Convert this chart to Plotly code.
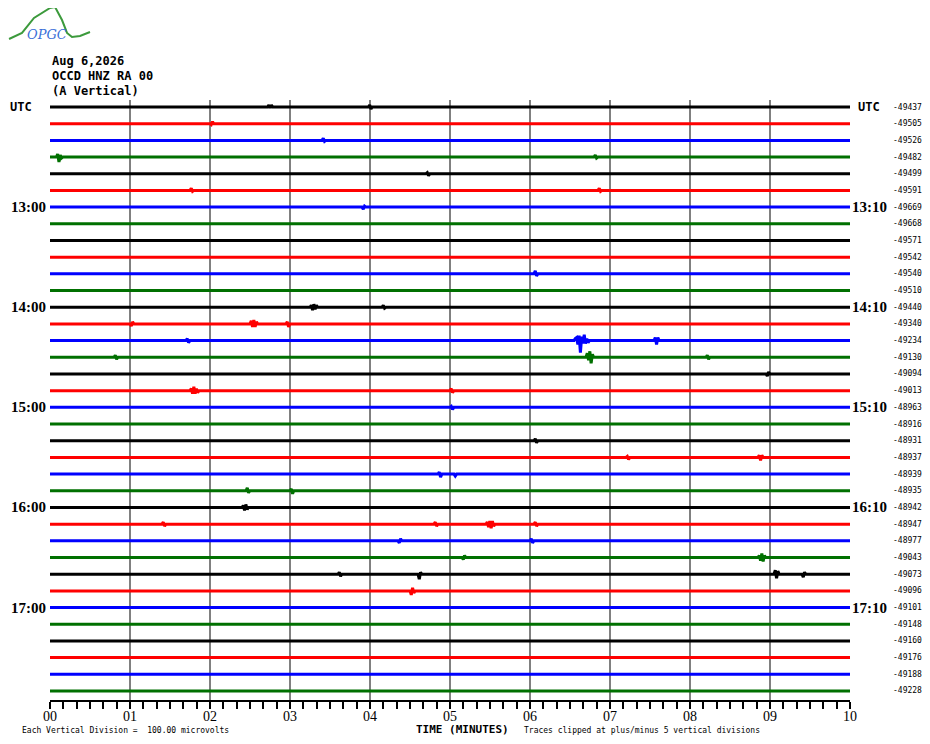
import plotly.graph_objects as go

# helicorder rows, 10 minutes each, first row starts 12:00 UTC
trace_colors = ["black", "red", "blue", "#007000"]
dc_offsets = [-49437, -49505, -49526, -49482, -49499, -49591, -49669, -49668, -49571,
              -49542, -49540, -49510, -49440, -49340, -49234, -49130, -49094, -49013,
              -48963, -48916, -48931, -48937, -48939, -48935, -48942, -48947, -48977,
              -49043, -49073, -49096, -49101, -49148, -49160, -49176, -49188, -49228]
left_labels = {0: "UTC", 6: "13:00", 12: "14:00", 18: "15:00", 24: "16:00", 30: "17:00"}
right_labels = {0: "UTC", 6: "13:10", 12: "14:10", 18: "15:10", 24: "16:10", 30: "17:10"}
minute_labels = ["00", "01", "02", "03", "04", "05", "06", "07", "08", "09", "10"]

# wiggles: row, start minute, deflections (pixels, up positive)
event_rows = [0, 0, 1, 2, 3, 3, 4, 5, 5, 6, 10,
              12, 12, 13, 13, 13, 14, 14, 14, 15, 15, 15, 16,
              17, 17, 18, 20, 21, 21, 22, 22, 23, 23, 24,
              25, 25, 25, 25, 26, 26, 27, 27, 28, 28, 28, 28, 29]
event_starts = [2.72, 3.98, 2.0, 3.4, 0.08, 6.8, 4.7, 1.75, 6.85, 3.9, 6.05,
                3.25, 4.15, 2.5, 2.95, 1.0, 1.7, 6.55, 7.55, 0.8, 6.7, 8.2, 8.95,
                1.75, 5.0, 5.0, 6.05, 7.2, 8.85, 4.85, 5.05, 2.45, 3.0, 2.4,
                1.4, 4.8, 5.45, 6.05, 6.0, 4.35, 8.85, 5.15, 4.6, 9.05, 9.4, 3.6, 4.5]
event_shapes = [[2, -1, 2], [2, -2], [-1, 2], [2, -1], [3, -5, 2, -1], [2, -1], [1, -2],
                [2, -1], [2, -1], [-2, 1], [3, -2],
                [2, -3, 3, -2, 2], [2, -1], [3, -3, 4, -3, 2], [2, -3], [-2, 2],
                [2, -2], [2, 3, -4, 5, -12, 4, -3, 6, -3, 2, -2], [3, -4, 3],
                [2, -2], [4, -3, 6, -6, 3], [2, -2], [-2, 2],
                [2, -3, 4, -3, 2, -2], [2, -2], [1, -2], [2, -2], [1, -2], [2, -3, 2],
                [2, -3], [-2], [3, -2], [2, -3], [2, -3, 3, -2],
                [2, -2], [2, -2], [2, -3, 3, -4, 3, -2], [2, -2], [2, -2], [-2, 2],
                [2, -3, 4, -4, 2], [-2, 2], [-5, 2], [4, -4, 3], [-3, 2], [2, -2], [-4, 3, -2]]

ROW_PX = 16.686
DT = 0.016

fig = go.Figure()

for row in range(len(dc_offsets)):
    xs, ys = [0.0], [-row]
    evs = sorted([(s, d) for r, s, d in zip(event_rows, event_starts, event_shapes) if r == row])
    for start, defl in evs:
        xs.append(start)
        ys.append(-row)
        for i, d in enumerate(defl):
            xs.append(start + (i + 1) * DT)
            ys.append(-row + d / ROW_PX)
        xs.append(start + (len(defl) + 1) * DT)
        ys.append(-row)
    xs.append(10.0)
    ys.append(-row)
    fig.add_trace(go.Scatter(x=xs, y=ys, mode="lines", hoverinfo="skip",
                             line=dict(color=trace_colors[row % 4], width=3)))

mono = "DejaVu Sans Mono"
serif = "Liberation Serif"

for row, txt in left_labels.items():
    if txt == "UTC":
        fig.add_annotation(x=-0.0525, y=-row, xref="paper", yref="y", text="<b>UTC</b>",
                           showarrow=False, xanchor="left", yanchor="middle",
                           font=dict(family=mono, size=12, color="black"))
    else:
        fig.add_annotation(x=-0.003, y=-row, xref="paper", yref="y", text="<b>%s</b>" % txt,
                           showarrow=False, xanchor="right", yanchor="middle",
                           font=dict(family=serif, size=15, color="black"))

for row, txt in right_labels.items():
    fam, sz = (mono, 12) if txt == "UTC" else (serif, 15)
    fig.add_annotation(x=1.024, y=-row, xref="paper", yref="y", text="<b>%s</b>" % txt,
                       showarrow=False, xanchor="center", yanchor="middle",
                       font=dict(family=fam, size=sz, color="black"))

for row, dc in enumerate(dc_offsets):
    fig.add_annotation(x=1.051, y=-row, xref="paper", yref="y", text=str(dc),
                       showarrow=False, xanchor="left", yanchor="middle",
                       font=dict(family=mono, size=8, color="black"))
fig.add_annotation(x=1.066, y=0.45, xref="paper", yref="y", text="DC", showarrow=False,
                   xanchor="left", yanchor="middle", font=dict(family=mono, size=7, color="black"))

# header
for i, txt in enumerate(["Aug 6,2026", "OCCD HNZ RA 00", "(A Vertical)"]):
    fig.add_annotation(x=0, y=(700 - 61 - 15 * i) / 600, xref="paper", yref="paper",
                       text="<b>%s</b>" % txt, showarrow=False, xanchor="left", yanchor="middle",
                       font=dict(family=mono, size=12, color="black"))

# footer
fig.add_annotation(x=(20 - 50) / 800, y=(700 - 730) / 600, xref="paper", yref="paper",
                   text="Each Vertical Division =  100.00 microvolts", showarrow=False,
                   xanchor="left", yanchor="middle", font=dict(family=mono, size=8, color="black"))
fig.add_annotation(x=(414 - 50) / 800, y=(700 - 729) / 600, xref="paper", yref="paper",
                   text="<b>TIME (MINUTES)</b>", showarrow=False, xanchor="left", yanchor="middle",
                   font=dict(family=mono, size=11, color="black"))
fig.add_annotation(x=(522 - 50) / 800, y=(700 - 730) / 600, xref="paper", yref="paper",
                   text="Traces clipped at plus/minus 5 vertical divisions", showarrow=False,
                   xanchor="left", yanchor="middle", font=dict(family=mono, size=8, color="black"))


# logo (page pixels -> paper)
def px(x, y):
    return (x - 50) / 800, (700 - y) / 600


logo_pts = [(9, 39), (22, 33), (34, 18), (50, 8), (55, 7), (62, 20), (67, 33), (72, 37), (80, 36), (90, 32)]
path = "M " + " L ".join("%.4f,%.4f" % px(x, y) for x, y in logo_pts)
fig.add_shape(type="path", path=path, xref="paper", yref="paper",
              line=dict(color="#3c9a3c", width=2))
lx, ly = px(47, 35)
fig.add_annotation(x=lx, y=ly, xref="paper", yref="paper", text="<i>OPGC</i>", showarrow=False,
                   xanchor="center", yanchor="middle",
                   font=dict(family="DejaVu Serif", size=13, color="#3a6fd8"))

fig.update_xaxes(range=[0, 10], tickvals=list(range(11)), ticktext=minute_labels,
                 showgrid=True, gridcolor="gray", gridwidth=1.5, zeroline=False,
                 showline=True, linecolor="black", linewidth=2, automargin=False,
                 ticks="outside", ticklen=7, tickwidth=1.5, tickcolor="black",
                 ticklabelstandoff=-5,
                 minor=dict(dtick=1 / 6, tick0=0, ticks="outside", ticklen=7, tickwidth=1.5,
                            tickcolor="black", showgrid=False),
                 tickfont=dict(family=serif, size=14, color="black"))
fig.update_yaxes(range=[-35.54, 0.42], showgrid=False, zeroline=False, showticklabels=False,
                 showline=False, automargin=False)

# page adds an 8px body margin, so the figure is shrunk and shifted to match
fig.update_layout(width=914, height=728, autosize=False, showlegend=False,
                  margin=dict(l=42, r=72, t=92, b=36),
                  paper_bgcolor="white", plot_bgcolor="white")

fig.write_html("out.html")
